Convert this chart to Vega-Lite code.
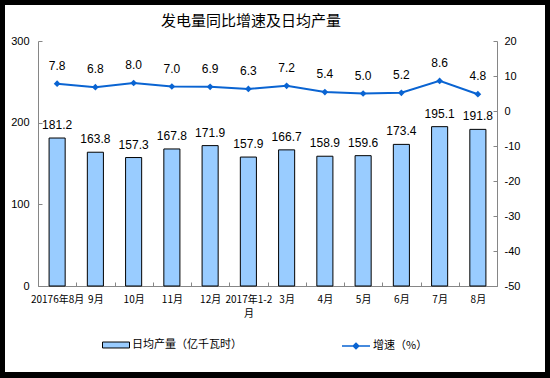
{
  "$schema": "https://vega.github.io/schema/vega-lite/v6.json",
  "width": 540,
  "height": 367,
  "autosize": "none",
  "padding": {"left": 5, "top": 5, "right": 5, "bottom": 6},
  "background": "black",
  "title": {
    "text": "发电量同比增速及日均产量",
    "frame": "group",
    "anchor": "middle",
    "offset": -24,
    "dx": -24,
    "font": "Noto Sans CJK SC",
    "fontSize": 15,
    "fontWeight": "normal",
    "color": "#000000"
  },
  "data": {
    "values": [
      {"month": "20176年8月", "output": 181.2, "growth": 7.8},
      {"month": "9月", "output": 163.8, "growth": 6.8},
      {"month": "10月", "output": 157.3, "growth": 8.0},
      {"month": "11月", "output": 167.8, "growth": 7.0},
      {"month": "12月", "output": 171.9, "growth": 6.9},
      {"month": "2017年1-2月", "output": 157.9, "growth": 6.3},
      {"month": "3月", "output": 166.7, "growth": 7.2},
      {"month": "4月", "output": 158.9, "growth": 5.4},
      {"month": "5月", "output": 159.6, "growth": 5.0},
      {"month": "6月", "output": 173.4, "growth": 5.2},
      {"month": "7月", "output": 195.1, "growth": 8.6},
      {"month": "8月", "output": 191.8, "growth": 4.8}
    ]
  },
  "encoding": {
    "x": {
      "field": "month",
      "type": "ordinal",
      "sort": null,
      "scale": {"range": [33, 492], "paddingInner": 0, "paddingOuter": 0},
      "axis": {
        "title": null,
        "orient": "bottom",
        "offset": -86,
        "tickBand": "extent",
        "tickSize": -4,
        "tickColor": "#868686",
        "domainColor": "#868686",
        "labelAngle": 0,
        "labelPadding": 12,
        "labelOverlap": false,
        "labelFont": "Noto Sans CJK SC",
        "labelFontSize": 10,
        "labelColor": "#000000",
        "labelBaseline": "top",
        "labelLineHeight": 14,
        "labelExpr": "datum.value == '2017年1-2月' ? ['2017年1-2', '月'] : datum.label"
      }
    }
  },
  "layer": [
    {
      "layer": [
        {
          "mark": {"type": "bar", "stroke": "#000000", "strokeWidth": 1, "width": {"band": 0.42}},
          "encoding": {
            "y": {
              "field": "output",
              "type": "quantitative",
              "scale": {"domain": [0, 300], "range": [281, 36], "nice": false},
              "axis": {
                "title": null,
                "orient": "left",
                "offset": -33,
                "values": [0, 100, 200, 300],
                "grid": false,
                "tickSize": -4,
                "tickColor": "#868686",
                "domainColor": "#868686",
                "labelPadding": 13,
                "labelFont": "Liberation Sans",
                "labelFontSize": 11,
                "labelColor": "#000000"
              }
            },
            "fill": {
              "datum": "日均产量（亿千瓦时）",
              "type": "nominal",
              "scale": {"range": ["#99ccff"]},
              "legend": {
                "orient": "none",
                "legendX": 97,
                "legendY": 326,
                "title": null,
                "padding": 0,
                "symbolType": "M-1,-0.22L1,-0.22L1,0.22L-1,0.22Z",
                "symbolSize": 729,
                "symbolStrokeColor": "#000000",
                "symbolStrokeWidth": 1,
                "labelOffset": 2,
                "labelFont": "Noto Sans CJK SC",
                "labelFontSize": 11,
                "labelColor": "#000000"
              }
            }
          }
        },
        {
          "mark": {"type": "text", "baseline": "alphabetic", "dy": -9, "font": "Liberation Sans", "fontSize": 12, "color": "#000000"},
          "encoding": {
            "y": {"field": "output", "type": "quantitative"},
            "text": {"field": "output", "type": "quantitative", "format": ".1f"}
          }
        }
      ]
    },
    {
      "layer": [
        {
          "mark": {"type": "line", "strokeWidth": 2},
          "encoding": {
            "y": {
              "field": "growth",
              "type": "quantitative",
              "scale": {"domain": [-50, 20], "range": [281, 36], "nice": false, "zero": false},
              "axis": {
                "title": null,
                "orient": "right",
                "offset": -48,
                "values": [-50, -40, -30, -20, -10, 0, 10, 20],
                "labelExpr": "replace(datum.label, '−', '-')",
                "grid": false,
                "tickSize": -4,
                "tickColor": "#868686",
                "domainColor": "#868686",
                "labelPadding": 11,
                "labelFont": "Liberation Sans",
                "labelFontSize": 11,
                "labelColor": "#000000"
              }
            },
            "stroke": {
              "datum": "增速（%）",
              "type": "nominal",
              "scale": {"range": ["#0a64d2"]},
              "legend": {
                "orient": "none",
                "legendX": 336,
                "legendY": 326,
                "title": null,
                "padding": 0,
                "symbolType": "M-1,0L1,0M0,-0.2L0.2,0L0,0.2L-0.2,0Z",
                "symbolSize": 784,
                "symbolStrokeWidth": 1.5,
                "symbolFillColor": "#0a64d2",
                "labelOffset": 2,
                "labelFont": "Noto Sans CJK SC",
                "labelFontSize": 11,
                "labelColor": "#000000"
              }
            }
          }
        },
        {
          "mark": {"type": "point", "shape": "diamond", "filled": true, "size": 45, "color": "#0a64d2", "opacity": 1},
          "encoding": {
            "y": {"field": "growth", "type": "quantitative"}
          }
        },
        {
          "mark": {"type": "text", "baseline": "alphabetic", "dy": -14, "font": "Liberation Sans", "fontSize": 12, "color": "#000000"},
          "encoding": {
            "y": {"field": "growth", "type": "quantitative"},
            "text": {"field": "growth", "type": "quantitative", "format": ".1f"}
          }
        }
      ]
    }
  ],
  "resolve": {"scale": {"y": "independent"}},
  "config": {
    "view": {"fill": "white", "stroke": null}
  }
}
